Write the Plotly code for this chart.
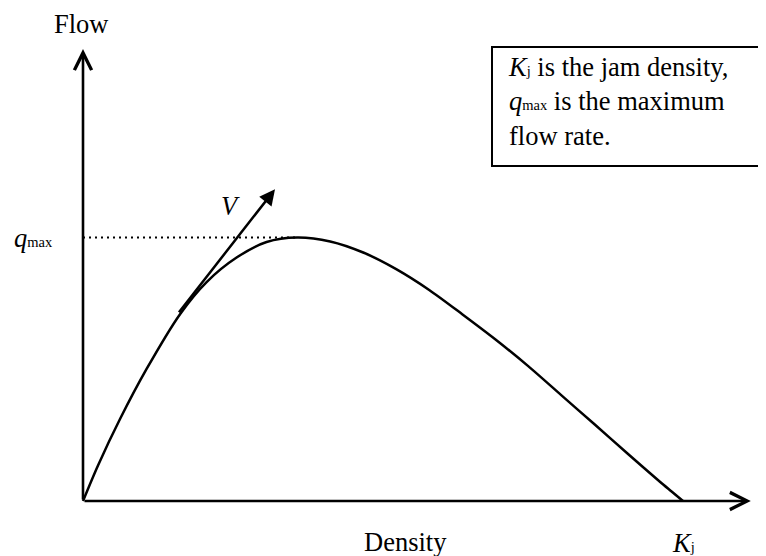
import plotly.graph_objects as go

# ---------------- data ----------------
# density expressed in % of the jam density Kj, flow in % of q_max
density = [0, 2.5, 6.17, 10.6, 16.2, 20.6, 25.6, 30.6, 35.7, 41.2, 46.7, 52.2,
           57.7, 63.2, 68.7, 74.2, 79.7, 85.2, 90.7, 96.2, 98.1, 100]
flow = [0, 13.5, 31.1, 50.1, 71.0, 83.1, 92.4, 98.3, 100, 98.5, 94.3, 88.0,
        80.1, 70.9, 61.4, 51.2, 40.2, 29.2, 18.1, 7.2, 3.6, 0]
jam_density = 100
q_max = 100
density_at_qmax = 35.7
tangent_density = [15.8, 32.0]   # V (speed) tangent arrow: tail, tip
tangent_flow = [71.1, 118.3]
axis_density_end = 111.3
axis_flow_end = 171.5

# ---------------- layout geometry ----------------
PAGE_MARGIN = 8                      # default body margin of the html page
W, H = 766 - PAGE_MARGIN, 556 - PAGE_MARGIN
ORIGIN_REF = (83, 501)               # origin in reference-picture pixels
PX_PER_X = 6.0
PX_PER_Y = 2.635
x_range = [(PAGE_MARGIN - ORIGIN_REF[0]) / PX_PER_X, (766 - ORIGIN_REF[0]) / PX_PER_X]
y_range = [(ORIGIN_REF[1] - 556) / PX_PER_Y, (ORIGIN_REF[1] - PAGE_MARGIN) / PX_PER_Y]


def px_x(px):   # horizontal reference pixel -> paper fraction
    return (px - PAGE_MARGIN) / W


def px_y(py):   # vertical reference pixel -> paper fraction
    return 1 - (py - PAGE_MARGIN) / H


FONT = "Liberation Serif, Times New Roman, serif"
FS = 26.5
SMALL = "<span style='font-size:14.5px'>{}</span>"

fig = go.Figure()

# flow-density curve
fig.add_trace(go.Scatter(
    x=density, y=flow, mode="lines",
    line=dict(color="black", width=2.5, shape="spline", smoothing=0.8),
    hoverinfo="skip", showlegend=False))

# dotted q_max guide
fig.add_trace(go.Scatter(
    x=[0, density_at_qmax], y=[q_max, q_max], mode="lines",
    line=dict(color="black", width=2, dash="2px,4px"),
    hoverinfo="skip", showlegend=False))

annotations = []
# axes with open arrow heads
for (tx, ty) in [(axis_density_end, 0), (0, axis_flow_end)]:
    annotations.append(dict(
        x=tx, y=ty, ax=0, ay=0, xref="x", yref="y", axref="x", ayref="y",
        text="", showarrow=True, arrowhead=5, arrowsize=1.3, arrowwidth=2.6,
        arrowcolor="black", standoff=0))
# V tangent arrow
annotations.append(dict(
    x=tangent_density[1], y=tangent_flow[1], ax=tangent_density[0], ay=tangent_flow[0],
    xref="x", yref="y", axref="x", ayref="y",
    text="", showarrow=True, arrowhead=2, arrowsize=1.25, arrowwidth=2.5,
    arrowcolor="black", standoff=0))


def label(text, x, y, xanchor="center", xref="x", yref="y"):
    annotations.append(dict(
        x=x, y=y, xref=xref, yref=yref, text=text, showarrow=False,
        xanchor=xanchor, yanchor="middle", align="left",
        font=dict(family=FONT, size=FS, color="black")))


label("Flow", -0.25, 181.2)
label("Density", 53.8, -15.4)
label("<i>K</i>" + SMALL.format("j"), jam_density, -16.0)
label("<i>q</i>" + SMALL.format("max"), -4.67, q_max, xanchor="right")
label("<i>V</i>", 24.5, 111.8)
label("<i>K</i>" + SMALL.format("j") + " is the jam density,<br>"
      "<i>q</i>" + SMALL.format("max") + " is the maximum<br>flow rate.",
      px_x(506), px_y(101), xanchor="left", xref="paper", yref="paper")

fig.update_layout(
    width=W, height=H, autosize=False,
    margin=dict(l=0, r=0, t=0, b=0, pad=0),
    paper_bgcolor="white", plot_bgcolor="white",
    xaxis=dict(visible=False, range=x_range, fixedrange=True),
    yaxis=dict(visible=False, range=y_range, fixedrange=True),
    annotations=annotations,
    shapes=[dict(type="rect", xref="paper", yref="paper",
                 x0=px_x(492), x1=px_x(800), y0=px_y(166), y1=px_y(47),
                 line=dict(color="black", width=2), fillcolor="rgba(0,0,0,0)")],
)

fig.write_html("out.html")
